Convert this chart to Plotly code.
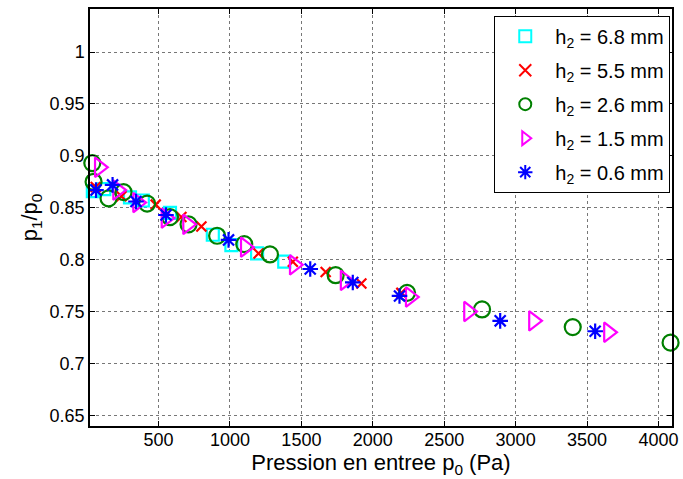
import plotly.graph_objects as go

# h2 = 6.8 mm
p0_68 = [40, 120, 300, 390, 580, 880, 1010, 1190, 1380]
r_68 = [0.866, 0.868, 0.860, 0.857, 0.845, 0.824, 0.814, 0.806, 0.798]
# h2 = 5.5 mm
p0_55 = [60, 240, 480, 660, 800, 1200, 1440, 1670, 1920, 2200]
r_55 = [0.870, 0.861, 0.853, 0.841, 0.832, 0.806, 0.798, 0.788, 0.777, 0.768]
# h2 = 2.6 mm
p0_26 = [36, 45, 150, 255, 420, 580, 710, 910, 1100, 1280, 1740, 2240, 2765, 3400, 4085]
r_26 = [0.893, 0.875, 0.859, 0.865, 0.854, 0.841, 0.834, 0.823, 0.815, 0.805, 0.785, 0.768, 0.752, 0.735, 0.720]
# h2 = 1.5 mm
p0_15 = [85, 213, 353, 552, 703, 1107, 1450, 1806, 2262, 2670, 3125, 3650]
r_15 = [0.889, 0.867, 0.855, 0.840, 0.834, 0.812, 0.795, 0.780, 0.764, 0.750, 0.741, 0.730]
# h2 = 0.6 mm
p0_06 = [62, 178, 342, 552, 990, 1562, 1860, 2187, 2892, 3557]
r_06 = [0.867, 0.872, 0.856, 0.843, 0.819, 0.791, 0.778, 0.765, 0.741, 0.731]

x_ticks = [500, 1000, 1500, 2000, 2500, 3000, 3500, 4000]
y_ticks = [0.65, 0.7, 0.75, 0.8, 0.85, 0.9, 0.95, 1.0]
y_ticklabels = ["0.65", "0.7", "0.75", "0.8", "0.85", "0.9", "0.95", "1"]

series = [
    ("h<sub>2</sub> = 6.8 mm", p0_68, r_68, "square-open", "#00FFFF", 12),
    ("h<sub>2</sub> = 5.5 mm", p0_55, r_55, "x-thin-open", "#FF0000", 10),
    ("h<sub>2</sub> = 2.6 mm", p0_26, r_26, "circle-open", "#008000", 16),
    ("h<sub>2</sub> = 1.5 mm", p0_15, r_15, "triangle-right-open", "#FF00FF", 17),
    ("h<sub>2</sub> = 0.6 mm", p0_06, r_06, "asterisk-open", "#0000FF", 13),
]

fig = go.Figure()
for i, (name, xs, ys, sym, col, sz) in enumerate(series):
    fig.add_trace(go.Scatter(
        x=xs, y=ys, mode="markers", name=name, cliponaxis=False, legendgroup=f"g{i}",
        marker=dict(symbol=sym, size=sz, color=col, line=dict(color=col, width=2.2)),
    ))

font_family = "Liberation Sans, Arial, sans-serif"
axis_common = dict(
    showline=True, linecolor="black", linewidth=1.5, mirror="ticks",
    ticks="inside", ticklen=5, tickcolor="black",
    showgrid=True, gridcolor="#777777", griddash="dot", gridwidth=1,
    zeroline=False, tickfont=dict(size=18, color="black", family=font_family),
)
fig.update_xaxes(range=[20, 4095], tickvals=x_ticks, automargin=False, ticklabelstandoff=-3,
                 title=dict(text="Pression en entree p<sub>0</sub> (Pa)", standoff=5,
                            font=dict(size=22, color="black", family=font_family)),
                 **axis_common)
fig.update_yaxes(range=[0.6397, 1.0415], tickvals=y_ticks, ticktext=y_ticklabels, automargin=False,
                 title=dict(text="p<sub>1</sub>/p<sub>0</sub>", standoff=6,
                            font=dict(size=22, color="black", family=font_family)),
                 **axis_common)
fig.update_layout(
    width=683, height=479,
    margin=dict(l=90, r=11, t=9, b=53),
    plot_bgcolor="white", paper_bgcolor="white",
    font=dict(family=font_family, color="black"),
    legend=dict(x=0.997, y=0.984, xanchor="right", yanchor="top",
                bgcolor="white", bordercolor="black", borderwidth=1,
                font=dict(size=20, color="black", family=font_family),
                itemsizing="constant", itemwidth=50, tracegroupgap=5),
)
fig.write_html("out.html", config={"displayModeBar": False},
               post_script="document.body.style.margin='0';document.body.style.overflow='hidden';")
